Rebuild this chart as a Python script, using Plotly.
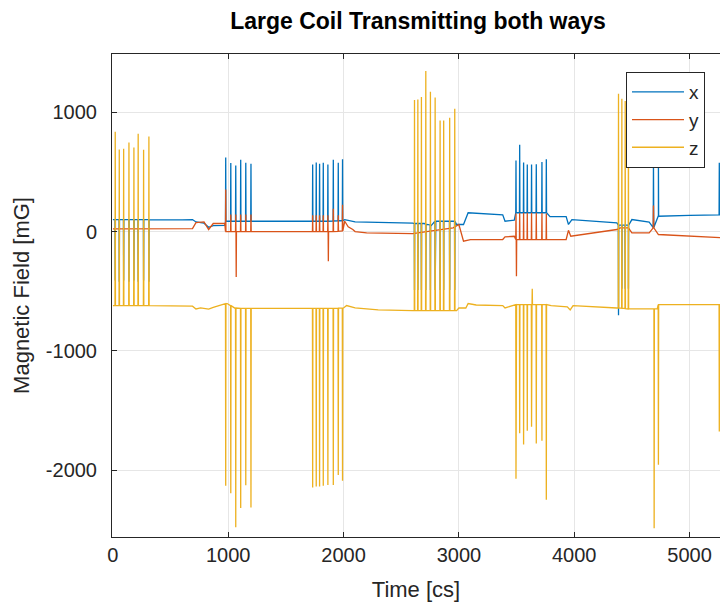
import plotly.graph_objects as go

# ---------------- data ----------------
# baseline knots (time [cs], field [mG])
X_BASE_T = [0, 300, 600, 690, 720, 790, 830, 870, 970, 1000, 1700, 1990, 2010, 2040, 2100, 2600,
            2700, 2760, 2800, 2950, 2980, 3040, 3080, 3200, 3380, 3400, 3480, 3500, 3760, 3790,
            3930, 3950, 3980, 4370, 4400, 4470, 4500, 4650, 4690, 4730, 5000, 5300]
X_BASE_V = [100, 100, 98, 100, 80, 70, 35, 50, 52, 86, 86, 90, 100, 95, 80, 70,
            67, 50, 86, 86, 59, 59, 157, 150, 140, 86, 95, 157, 157, 125,
            125, 59, 100, 73, 53, 53, 100, 78, 33, 128, 135, 142]

Y_BASE_T = [0, 690, 720, 790, 830, 870, 970, 1000, 1700, 1990, 2010, 2040, 2080, 2100, 2200,
            2600, 2750, 2950, 3000, 3040, 3100, 3380, 3400, 3480, 3500, 3760, 3930, 3950, 3970,
            4370, 4400, 4470, 4500, 4650, 4690, 4730, 5300]
Y_BASE_V = [23, 25, 75, 80, 17, 67, 67, 0, 0, 5, 86, 40, 17, 0, -11,
            -17, 3, 31, 59, -81, -67, -67, -45, -40, -67, -67, -67, 10, -39,
            17, 31, 31, -11, -11, 31, -25, -53]

Z_BASE_T = [0, 690, 720, 760, 830, 870, 970, 990, 1020, 1060, 1700, 2000, 2026, 2100, 2300,
            2600, 2980, 3000, 3060, 3080, 3150, 3380, 3400, 3480, 3500, 3760, 3800, 3940, 3965,
            3990, 4370, 4480, 4720, 4740, 5300]
Z_BASE_V = [-620, -625, -648, -640, -650, -635, -610, -603, -620, -643, -643, -640, -620, -640, -655,
            -662, -662, -640, -640, -603, -615, -620, -640, -620, -612, -612, -620, -630, -656,
            -620, -640, -648, -648, -612, -612]

# spikes: time, peak value, local baseline
X_SPIKE_T = [20, 55, 93, 139, 182, 219, 266, 312,
             978, 1022, 1065, 1108, 1152, 1197,
             1732, 1763, 1792, 1824, 1864, 1911, 1954, 1991,
             2615, 2644, 2675, 2713, 2753, 2794, 2837, 2868, 2920, 2964,
             3495, 3527, 3561, 3593, 3630, 3671, 3720, 3758,
             4384, 4413, 4442, 4470, 4687, 4730, 5258]
X_SPIKE_V = [-410, -420, -410, -420, -410, -420, -410, -420,
             620, 573, 553, 601, 576, 567,
             562, 578, 567, 576, 562, 601, 576, 604,
             -490, -490, -490, -490, -490, -490, -490, -490, -490, -490,
             595, 727, 578, 562, 562, 564, 581, 604,
             -700, -480, -480, -480, 580, 580, 576]
X_SPIKE_B = [100, 100, 100, 100, 100, 100, 100, 100,
             86, 86, 86, 86, 86, 86,
             86, 86, 86, 86, 86, 88, 90, 90,
             67, 67, 67, 60, 55, 86, 86, 86, 86, 86,
             157, 157, 157, 157, 157, 157, 157, 157,
             53, 53, 53, 53, 33, 128, 140]

Y_SPIKE_T = [978, 1022, 1065, 1069, 1108, 1152, 1197,
             1732, 1763, 1792, 1824, 1864, 1868, 1911, 1954, 1991,
             3495, 3499, 3527, 3561, 3593, 3630, 3671, 3720, 3758,
             4687]
Y_SPIKE_V = [352, 142, 142, -380, 142, 142, 142,
             137, 137, 137, 137, 137, -249, 190, 137, 224,
             150, -374, 155, 157, 157, 157, 157, 155, 150,
             218]
Y_SPIKE_B = [0, 0, 0, 0, 0, 0, 0,
             0, 0, 0, 0, 0, 0, 0, 2, 5,
             -67, -67, -67, -67, -67, -67, -67, -67, -67,
             31]

Z_SPIKE_T = [20, 55, 93, 139, 182, 219, 266, 312,
             978, 1022, 1065, 1108, 1152, 1197,
             1732, 1763, 1792, 1824, 1864, 1911, 1954, 1991,
             2615, 2644, 2675, 2713, 2753, 2794, 2837, 2868, 2920, 2964,
             3495, 3527, 3561, 3593, 3630, 3636, 3671, 3720, 3758,
             4384, 4413, 4442, 4470, 4693, 4730, 5258]
Z_SPIKE_V = [836, 687, 693, 746, 704, 819, 685, 796,
             -2127, -2190, -2475, -2314, -2123, -2311,
             -2143, -2135, -2135, -2127, -2121, -2121, -2039, -2087,
             1101, 1106, 1126, 1344, 1171, 1121, 930, 930, 953, 1028,
             -2070, -1688, -1783, -1668, -1635, -480, -1775, -1752, -2246,
             1154, 1112, 1092, 1000, -2484, -1953, -1674]
Z_SPIKE_B = [-620, -620, -620, -620, -620, -620, -620, -620,
             -603, -620, -640, -643, -643, -643,
             -643, -643, -643, -643, -643, -643, -642, -641,
             -662, -662, -662, -662, -662, -662, -662, -662, -662, -662,
             -612, -612, -612, -612, -612, -612, -612, -612, -612,
             -640, -642, -645, -648, -648, -612, -612]

SERIES_NAMES = ["x", "y", "z"]
COLORS = ["#0072BD", "#D95319", "#EDB120"]


def assemble(bt, bv, st, sv, sb):
    pts = list(zip(bt, bv))
    for t, v, b in zip(st, sv, sb):
        pts += [(t - 2, b), (t, v), (t + 2, b)]
    pts.sort(key=lambda p: p[0])
    return [p[0] for p in pts], [p[1] for p in pts]


series = [
    assemble(X_BASE_T, X_BASE_V, X_SPIKE_T, X_SPIKE_V, X_SPIKE_B),
    assemble(Y_BASE_T, Y_BASE_V, Y_SPIKE_T, Y_SPIKE_V, Y_SPIKE_B),
    assemble(Z_BASE_T, Z_BASE_V, Z_SPIKE_T, Z_SPIKE_V, Z_SPIKE_B),
]

FONT = "Liberation Sans, Arial, sans-serif"
AX = "#262626"

fig = go.Figure()
for (t, v), name, col in zip(series, SERIES_NAMES, COLORS):
    fig.add_trace(go.Scatter(x=t, y=v, mode="lines", name=name,
                             line=dict(color=col, width=1.3)))

fig.update_layout(
    width=720, height=602,
    margin=dict(l=112, r=0, t=54, b=65),
    paper_bgcolor="white", plot_bgcolor="white",
    font=dict(family=FONT, color=AX),
    title=dict(text="<b>Large Coil Transmitting both ways</b>",
               font=dict(family=FONT, size=23, color="black"),
               xref="container", yref="container", x=418 / 720, y=1 - 21 / 602,
               xanchor="center", yanchor="middle"),
    showlegend=True,
    legend=dict(x=(626 - 112) / 608, y=1 - (72 - 54) / 483, xanchor="left", yanchor="top",
                bgcolor="white", bordercolor=AX, borderwidth=1, itemwidth=52,
                tracegroupgap=0,
                font=dict(family=FONT, size=19, color=AX)),
)

fig.update_xaxes(
    range=[-8, 5264], tickvals=[0, 1000, 2000, 3000, 4000, 5000],
    ticks="inside", ticklen=5, tickcolor=AX, tickwidth=1,
    showline=True, linecolor=AX, linewidth=1, mirror="allticks",
    showgrid=True, gridcolor="#e6e6e6", gridwidth=1, zeroline=False,
    tickfont=dict(family=FONT, size=20, color=AX),
    title=dict(text="Time [cs]", font=dict(family=FONT, size=22, color=AX), standoff=17),
)
fig.update_yaxes(
    range=[-2557, 1486], tickvals=[-2000, -1000, 0, 1000],
    ticktext=["-2000", "-1000", "0", "1000"],
    ticks="inside", ticklen=5, tickcolor=AX, tickwidth=1,
    showline=True, linecolor=AX, linewidth=1,
    showgrid=True, gridcolor="#e6e6e6", gridwidth=1, zeroline=False,
    tickfont=dict(family=FONT, size=20, color=AX), ticklabelstandoff=10,
    title=dict(text="Magnetic Field [mG]", font=dict(family=FONT, size=22, color=AX), standoff=10),
)

fig.write_html("out.html")
